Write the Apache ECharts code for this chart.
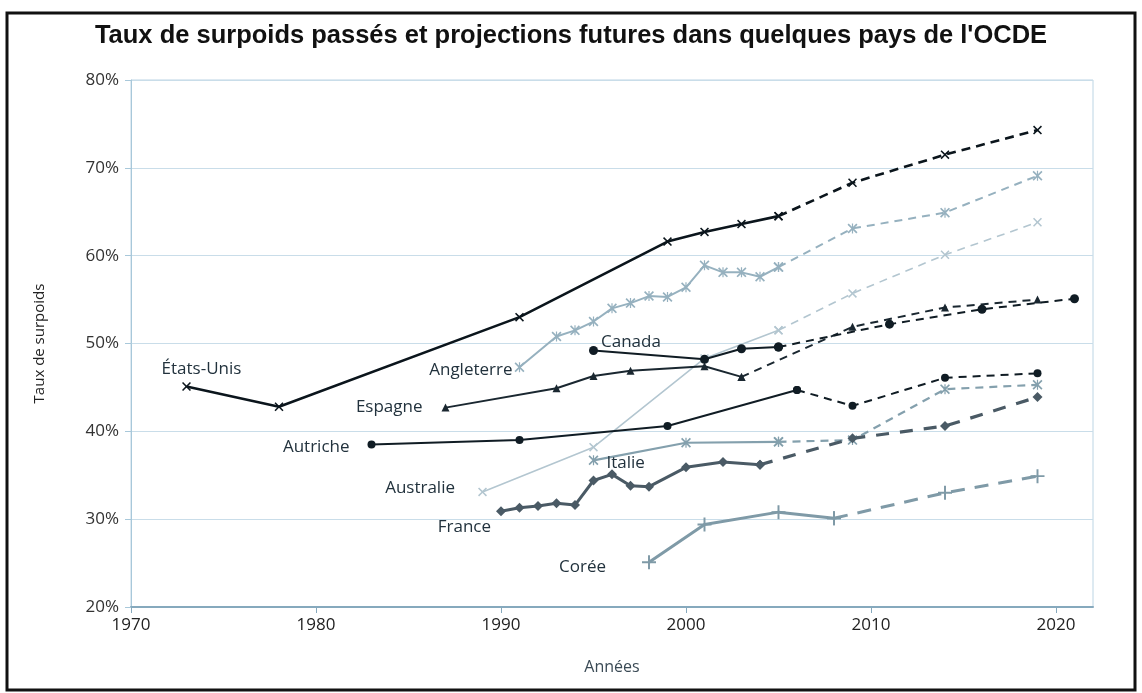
<!DOCTYPE html>
<html>
<head>
<meta charset="utf-8">
<script src="https://cdn.jsdelivr.net/npm/echarts@6/dist/echarts.min.js"></script>
<style>
  html, body { margin: 0; padding: 0; background: #fff; }
  #chart { width: 1142px; height: 693px; }
</style>
</head>
<body>
<div id="chart"></div>
<script>
// données observées (trait plein) et projections (pointillés)
var usYears = [1973, 1978, 1991, 1999, 2001, 2003, 2005];
var usVals = [45.1, 42.8, 53.0, 61.6, 62.7, 63.6, 64.5];
var usProjYears = [2005, 2009, 2014, 2019];
var usProjVals = [64.5, 68.3, 71.5, 74.3];

var ukYears = [1991, 1993, 1994, 1995, 1996, 1997, 1998, 1999, 2000, 2001, 2002, 2003, 2004, 2005];
var ukVals = [47.3, 50.8, 51.5, 52.5, 54.0, 54.6, 55.4, 55.3, 56.4, 58.9, 58.1, 58.1, 57.6, 58.7];
var ukProjYears = [2005, 2009, 2014, 2019];
var ukProjVals = [58.7, 63.1, 64.9, 69.1];

var auYears = [1989, 1995, 2001, 2005];
var auVals = [33.1, 38.2, 48.3, 51.5];
var auProjYears = [2005, 2009, 2014, 2019];
var auProjVals = [51.5, 55.7, 60.1, 63.8];

var caYears = [1995, 2001, 2003, 2005];
var caVals = [49.2, 48.2, 49.4, 49.6];
var caProjYears = [2005, 2011, 2016, 2021];
var caProjVals = [49.6, 52.2, 53.9, 55.1];

var esYears = [1987, 1993, 1995, 1997, 2001, 2003];
var esVals = [42.7, 44.9, 46.3, 46.9, 47.4, 46.2];
var esProjYears = [2003, 2009, 2014, 2019];
var esProjVals = [46.2, 51.9, 54.1, 55.0];

var atYears = [1983, 1991, 1999, 2006];
var atVals = [38.5, 39.0, 40.6, 44.7];
var atProjYears = [2006, 2009, 2014, 2019];
var atProjVals = [44.7, 42.9, 46.1, 46.6];

var itYears = [1995, 2000, 2005];
var itVals = [36.7, 38.7, 38.8];
var itProjYears = [2005, 2009, 2014, 2019];
var itProjVals = [38.8, 39.0, 44.8, 45.3];

var frYears = [1990, 1991, 1992, 1993, 1994, 1995, 1996, 1997, 1998, 2000, 2002, 2004];
var frVals = [30.9, 31.3, 31.5, 31.8, 31.6, 34.4, 35.1, 33.8, 33.7, 35.9, 36.5, 36.2];
var frProjYears = [2004, 2009, 2014, 2019];
var frProjVals = [36.2, 39.2, 40.6, 43.9];

var krYears = [1998, 2001, 2005, 2008];
var krVals = [25.1, 29.4, 30.8, 30.1];
var krProjYears = [2008, 2014, 2019];
var krProjVals = [30.1, 33.0, 34.9];

var yTicks = [20, 30, 40, 50, 60, 70, 80];

// symboles
var symX = 'path://M0,1.2 L1.2,0 L5,3.8 L8.8,0 L10,1.2 L6.2,5 L10,8.8 L8.8,10 L5,6.2 L1.2,10 L0,8.8 L3.8,5 Z';
var symStar = 'path://M0,1.2 L1.2,0 L4.4,3.2 L4.4,0 L5.6,0 L5.6,3.2 L8.8,0 L10,1.2 L6.2,5 L10,8.8 L8.8,10 L5.6,6.8 L5.6,10 L4.4,10 L4.4,6.8 L1.2,10 L0,8.8 L3.8,5 Z';
var symPlus = 'path://M4.3,0 H5.7 V4.3 H10 V5.7 H5.7 V10 H4.3 V5.7 H0 V4.3 H4.3 Z';

var labelColor = '#22323d';
var fontFam = '"Open Sans", Lato, sans-serif';

function zip (xs, ys) {
  return xs.map(function (x, i) { return [x, ys[i]] })
}

function mkSeries (name, years, vals, projYears, projVals, st) {
  var data = zip(years, vals)
  // étiquette du pays sur le premier point
  data[0] = {
    value: data[0],
    label: {
      show: true,
      formatter: name,
      position: st.labelPos,
      distance: st.labelDist,
      offset: st.labelOffset,
      color: labelColor,
      fontFamily: fontFam,
      fontSize: 17
    }
  }
  var common = {
    type: 'line',
    symbol: st.symbol,
    symbolSize: st.size,
    showAllSymbol: true,
    z: st.z || 2,
    itemStyle: { color: st.color },
    emphasis: { disabled: true },
    animation: false
  }
  return [
    Object.assign({}, common, {
      name: name,
      data: data,
      lineStyle: { color: st.color, width: st.width, type: 'solid' }
    }),
    Object.assign({}, common, {
      name: name + ' (projection)',
      data: zip(projYears, projVals),
      lineStyle: { color: st.color, width: st.pwidth || st.width, type: st.dash || [8, 6] }
    })
  ]
}

var series = [].concat(
  mkSeries('Corée', krYears, krVals, krProjYears, krProjVals,
    { color: '#7f9aa7', symbol: symPlus, size: 14, width: 3, pwidth: 3, dash: [14, 10],
      labelPos: 'left', labelDist: 36, labelOffset: [0, 5] }),
  mkSeries('Australie', auYears, auVals, auProjYears, auProjVals,
    { color: '#b3c6d0', symbol: symX, size: 9, width: 1.6, dash: [8, 6],
      labelPos: 'left', labelDist: 23, labelOffset: [0, -4] }),
  mkSeries('Angleterre', ukYears, ukVals, ukProjYears, ukProjVals,
    { color: '#96b1bf', symbol: symStar, size: 10, width: 2, dash: [8, 6],
      labelPos: 'left', labelDist: 2, labelOffset: [0, 3] }),
  mkSeries('Italie', itYears, itVals, itProjYears, itProjVals,
    { color: '#84a0ad', symbol: symStar, size: 10, width: 2.2, dash: [8, 6],
      labelPos: 'right', labelDist: 8, labelOffset: [0, 3] }),
  mkSeries('France', frYears, frVals, frProjYears, frProjVals,
    { color: '#4a5a65', symbol: 'diamond', size: 10, width: 3, pwidth: 3.2, dash: [13, 11], z: 3,
      labelPos: 'left', labelDist: 5, labelOffset: [0, 16] }),
  mkSeries('Autriche', atYears, atVals, atProjYears, atProjVals,
    { color: '#101c24', symbol: 'circle', size: 8, width: 2, dash: [8, 6], z: 4,
      labelPos: 'left', labelDist: 18, labelOffset: [0, 3] }),
  mkSeries('Espagne', esYears, esVals, esProjYears, esProjVals,
    { color: '#1a2730', symbol: 'triangle', size: 8, width: 2, dash: [8, 6], z: 4,
      labelPos: 'left', labelDist: 19, labelOffset: [0, 0] }),
  mkSeries('Canada', caYears, caVals, caProjYears, caProjVals,
    { color: '#101c24', symbol: 'circle', size: 9, width: 2, dash: [8, 6], z: 4,
      labelPos: 'right', labelDist: 3, labelOffset: [0, -8] }),
  mkSeries('États-Unis', usYears, usVals, usProjYears, usProjVals,
    { color: '#0b151c', symbol: symX, size: 9, width: 2.6, dash: [9, 6], z: 5,
      labelPos: 'top', labelDist: 4, labelOffset: [15, 0] })
)

var chart = echarts.init(document.getElementById('chart'), null, { renderer: 'canvas' })
chart.setOption({
  backgroundColor: '#fff',
  animation: false,
  title: {
    text: "Taux de surpoids passés et projections futures dans quelques pays de l'OCDE",
    left: 'center',
    top: 18,
    textStyle: {
      fontFamily: '"Liberation Sans", Arial, sans-serif',
      fontWeight: 'bold',
      fontSize: 25.5,
      color: '#111'
    }
  },
  graphic: [
    { type: 'rect', shape: { x: 7, y: 13, width: 1128, height: 677 },
      style: { fill: 'none', stroke: '#111', lineWidth: 3 }, silent: true }
  ],
  grid: {
    left: 131, right: 49, top: 80, bottom: 86,
    show: true, borderColor: '#bcd5e4', borderWidth: 1
  },
  xAxis: {
    type: 'value',
    min: 1970,
    max: 2022,
    interval: 10,
    name: 'Années',
    nameLocation: 'middle',
    nameGap: 52,
    nameTextStyle: { fontFamily: fontFam, fontSize: 16, color: '#3a4a55' },
    axisLine: { show: true, onZero: false, lineStyle: { color: '#86a9bd', width: 2 } },
    axisTick: { show: true, length: 6, lineStyle: { color: '#86a9bd' } },
    axisLabel: {
      fontFamily: fontFam, fontSize: 17, color: '#222', margin: 10,
      showMaxLabel: false, formatter: function (v) { return v % 10 === 0 ? String(v) : '' }
    },
    splitLine: { show: false }
  },
  yAxis: {
    type: 'value',
    min: yTicks[0],
    max: yTicks[yTicks.length - 1],
    interval: 10,
    name: 'Taux de surpoids',
    nameLocation: 'middle',
    nameGap: 84,
    nameTextStyle: { fontFamily: fontFam, fontSize: 15, color: '#222' },
    axisLine: { show: true, lineStyle: { color: '#a8c8da', width: 1 } },
    axisTick: { show: true, inside: false, length: 6, lineStyle: { color: '#a8c8da' } },
    axisLabel: {
      fontFamily: fontFam, fontSize: 17, color: '#333', margin: 12,
      formatter: '{value}%'
    },
    splitLine: { show: true, lineStyle: { color: '#c9dde9', width: 1 } }
  },
  series: series
})
</script>
</body>
</html>
